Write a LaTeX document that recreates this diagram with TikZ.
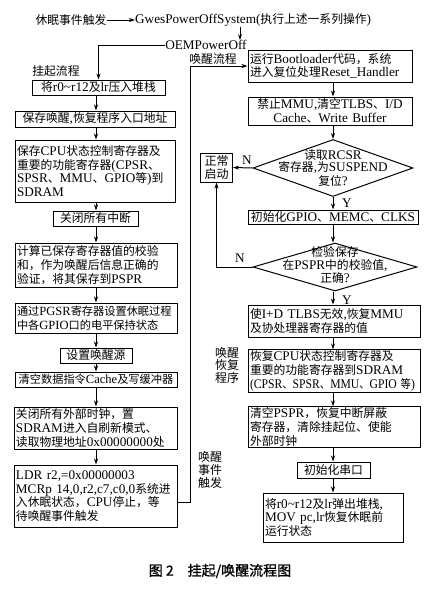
\documentclass[tikz,border=0pt]{standalone}
\usepackage{fontspec}
\usepackage{graphicx}
\setmainfont{Liberation Serif}[Scale=1.12]
\newfontfamily\cjkfont{Noto Sans CJK SC}
\newfontfamily\capfont{Noto Sans CJK SC}[FakeBold=1.2]
\usetikzlibrary{arrows.meta,shapes.geometric}
\XeTeXinterchartokenstate=1
\newXeTeXintercharclass\cjkcls
\newcount\mycnt
\mycnt="3000 \loop \XeTeXcharclass\mycnt=\cjkcls \ifnum\mycnt<"303F \advance\mycnt by 1 \repeat
\mycnt="4E00 \loop \XeTeXcharclass\mycnt=\cjkcls \ifnum\mycnt<"9FFF \advance\mycnt by 1 \repeat
\mycnt="FF00 \loop \XeTeXcharclass\mycnt=\cjkcls \ifnum\mycnt<"FFEF \advance\mycnt by 1 \repeat
\XeTeXinterchartoks 0 \cjkcls = {\cjkfont}
\XeTeXinterchartoks 4095 \cjkcls = {\cjkfont}
\XeTeXinterchartoks \cjkcls 0 = {\rmfamily}
\XeTeXinterchartoks \cjkcls 4095 = {\rmfamily}
\tikzset{
  base/.style={font=\fontsize{11.8}{13.7}\selectfont, inner sep=0pt},
  box/.style={base, draw, line width=1pt, inner xsep=2pt, inner ysep=1pt},
  lbox/.style={box, align=left},
  cbox/.style={box, align=center},
  dia/.style={draw, line width=1pt, diamond, inner sep=0pt},
  arr/.style={-{Stealth[length=6pt,width=4pt]}, line width=1pt},
  lab/.style={base, align=center}
}
\begin{document}
\begin{tikzpicture}[x=1pt,y=-1pt]
\fill[white] (0,0) rectangle (443,590);
\useasboundingbox (0,0) rectangle (443,590);
\coordinate (lx) at (96,0);
\coordinate (rx) at (333,0);
\coordinate (gx) at (240,0);
\coordinate (cv) at (190,502);
% top
\node[lab] (t1) at (71,20) {休眠事件触发};
\node[lab, anchor=west] (t2) at (135,20) {GwesPowerOffSystem(执行上述一系列操作)};
\node[lab] (oem) at (206,45) {OEMPowerOff};
\node[lab] (gq) at (56,71) {挂起流程};
\node[lab] (hx) at (213,59) {唤醒流程};
% left column
\node[cbox, minimum width=133pt, minimum height=15pt] (b1) at (98.5,87.5) {将r0\textasciitilde r12及lr压入堆栈};
\node[cbox, minimum width=160pt, minimum height=16pt] (b2) at (95,119) {保存唤醒,恢复程序入口地址};
\node[lbox, text width=156pt, minimum height=62pt] (b3) at (95,171) {保存CPU状态控制寄存器及\\重要的功能寄存器(CPSR、\\SPSR、MMU、GPIO等)到\\SDRAM};
\node[cbox, minimum width=85pt, minimum height=15pt] (b4) at (95.5,218.5) {关闭所有中断};
\node[lbox, text width=158pt, minimum height=44pt] (b5) at (96,265) {计算已保存寄存器值的校验\\和，作为唤醒后信息正确的\\验证，将其保存到PSPR};
\node[lbox, text width=158pt, minimum height=30pt, font=\fontsize{11.2}{13.7}\selectfont] (b6) at (96,318) {通过PGSR寄存器设置休眠过程\\中各GPIO口的电平保持状态};
\node[cbox, minimum width=72pt, minimum height=15pt] (b7) at (96,355.5) {设置唤醒源};
\node[cbox, minimum width=162pt, minimum height=15pt, font=\fontsize{11.2}{13.7}\selectfont] (b8) at (96,379.5) {清空数据指令Cache及写缓冲器};
\node[lbox, text width=159pt, minimum height=42pt] (b9) at (95.5,428) {关闭所有外部时钟，置\\SDRAM进入自刷新模式、\\读取物理地址0x00000000处};
\node[lbox, text width=159pt, minimum height=62pt] (b10) at (95.5,496) {LDR r2,=0x00000003\\MCRp 14,0,r2,c7,c0,0系统进\\入休眠状态，CPU停止，等\\待唤醒事件触发};
% right column
\node[lbox, text width=160pt, minimum height=32pt] (r1) at (330,66) {运行Bootloader代码，系统\\进入复位处理Reset\_Handler};
\node[cbox, text width=160pt, minimum height=28pt] (r2) at (330,111) {禁止MMU,清空TLBS、I/D\\Cache、Write Buffer};
\node[dia, minimum width=160pt, minimum height=57pt] (d1) at (333,168) {};
\node[lab, font=\fontsize{11.8}{12}\selectfont] (d1t) at (333,168) {读取RCSR\\寄存器,为SUSPEND\\复位?};
\node[cbox, minimum width=32pt, minimum height=29pt, inner xsep=1pt, font=\fontsize{12}{13}\selectfont] (zc) at (216.5,167.5) {正常\\启动};
\node[cbox, minimum width=170pt, minimum height=14pt] (r3) at (333,217) {初始化GPIO、MEMC、CLKS};
\node[dia, minimum width=164pt, minimum height=48pt] (d2) at (335,267) {};
\node[lab, font=\fontsize{11.8}{13}\selectfont] (d2t) at (335,265) {检验保存\\在PSPR中的校验值,\\正确?};
\node[lbox, text width=168pt, minimum height=32pt] (r4) at (334,321) {使I+D TLBS无效,恢复MMU\\及协处理器寄存器的值};
\node[lbox, text width=168pt, minimum height=42pt] (r5) at (334,371) {恢复CPU状态控制寄存器及\\重要的功能寄存器到SDRAM\\\scalebox{0.88}[1]{(CPSR、SPSR、MMU、GPIO 等)}};
\node[lbox, text width=168pt, minimum height=40pt] (r6) at (334,427) {清空PSPR，恢复中断屏蔽\\寄存器，清除挂起位、使能\\外部时钟};
\node[cbox, minimum width=73pt, minimum height=16pt] (r7) at (333.5,470) {初始化串口};
\node[lbox, text width=136pt, minimum height=49pt] (r8) at (333,517.5) {将r0\textasciitilde r12及lr弹出堆栈,\\MOV pc,lr恢复休眠前\\运行状态};
% side labels
\node[lab, font=\fontsize{12}{12.5}\selectfont] (hf) at (227,365) {唤醒\\恢复\\程序};
\node[lab, font=\fontsize{12}{13}\selectfont] (hs) at (210,470) {唤醒\\事件\\触发};
\node[lab] (n1) at (247,160) {N};
\node[lab] (y1) at (347,203) {Y};
\node[lab] (n2) at (240,258) {N};
\node[lab] (y2) at (347,300) {Y};
\node[lab, font={\XeTeXinterchartokenstate=0\capfont\fontsize{14}{16}\selectfont}] (cap) at (220,571) {图 2\quad 挂起/唤醒流程图};
% connectors top
\draw[arr] (t1.east) -- (t2.west);
\draw[arr] (t2.south -| gx) -- (oem.north -| gx);
\draw[arr] (oem.west) -| (b1.north);
% left column
\draw[arr] (b1.south -| lx) -- (b2.north -| lx);
\draw[arr] (b2.south -| lx) -- (b3.north -| lx);
\draw[arr] (b3.south -| lx) -- (b4.north -| lx);
\draw[arr] (b4.south -| lx) -- (b5.north -| lx);
\draw[arr] (b5.south -| lx) -- (b6.north -| lx);
\draw[arr] (b6.south -| lx) -- (b7.north -| lx);
\draw[arr] (b7.south -| lx) -- (b8.north -| lx);
\draw[arr] (b8.south -| lx) -- (b9.north -| lx);
\draw[arr] (b9.south -| lx) -- (b10.north -| lx);
\draw[arr] (b10.east |- cv) -- (cv) |- (r1.west);
% right column
\draw[arr] (r1.south -| rx) -- (r2.north -| rx);
\draw[arr] (r2.south -| rx) -- (d1.north -| rx);
\draw[arr] (d1.south -| rx) -- (r3.north -| rx);
\draw[arr] (r3.south -| rx) -- (d2.north -| rx);
\draw[arr] (d2.south -| rx) -- (r4.north -| rx);
\draw[arr] (r4.south -| rx) -- (r5.north -| rx);
\draw[arr] (r5.south -| rx) -- (r6.north -| rx);
\draw[arr] (r6.south -| rx) -- (r7.north -| rx);
\draw[arr] (r7.south -| rx) -- (r8.north -| rx);
\draw[arr] (d1.west) -- (zc.east);
\draw[arr] (d2.west) -| (zc.south);
\end{tikzpicture}
\end{document}
